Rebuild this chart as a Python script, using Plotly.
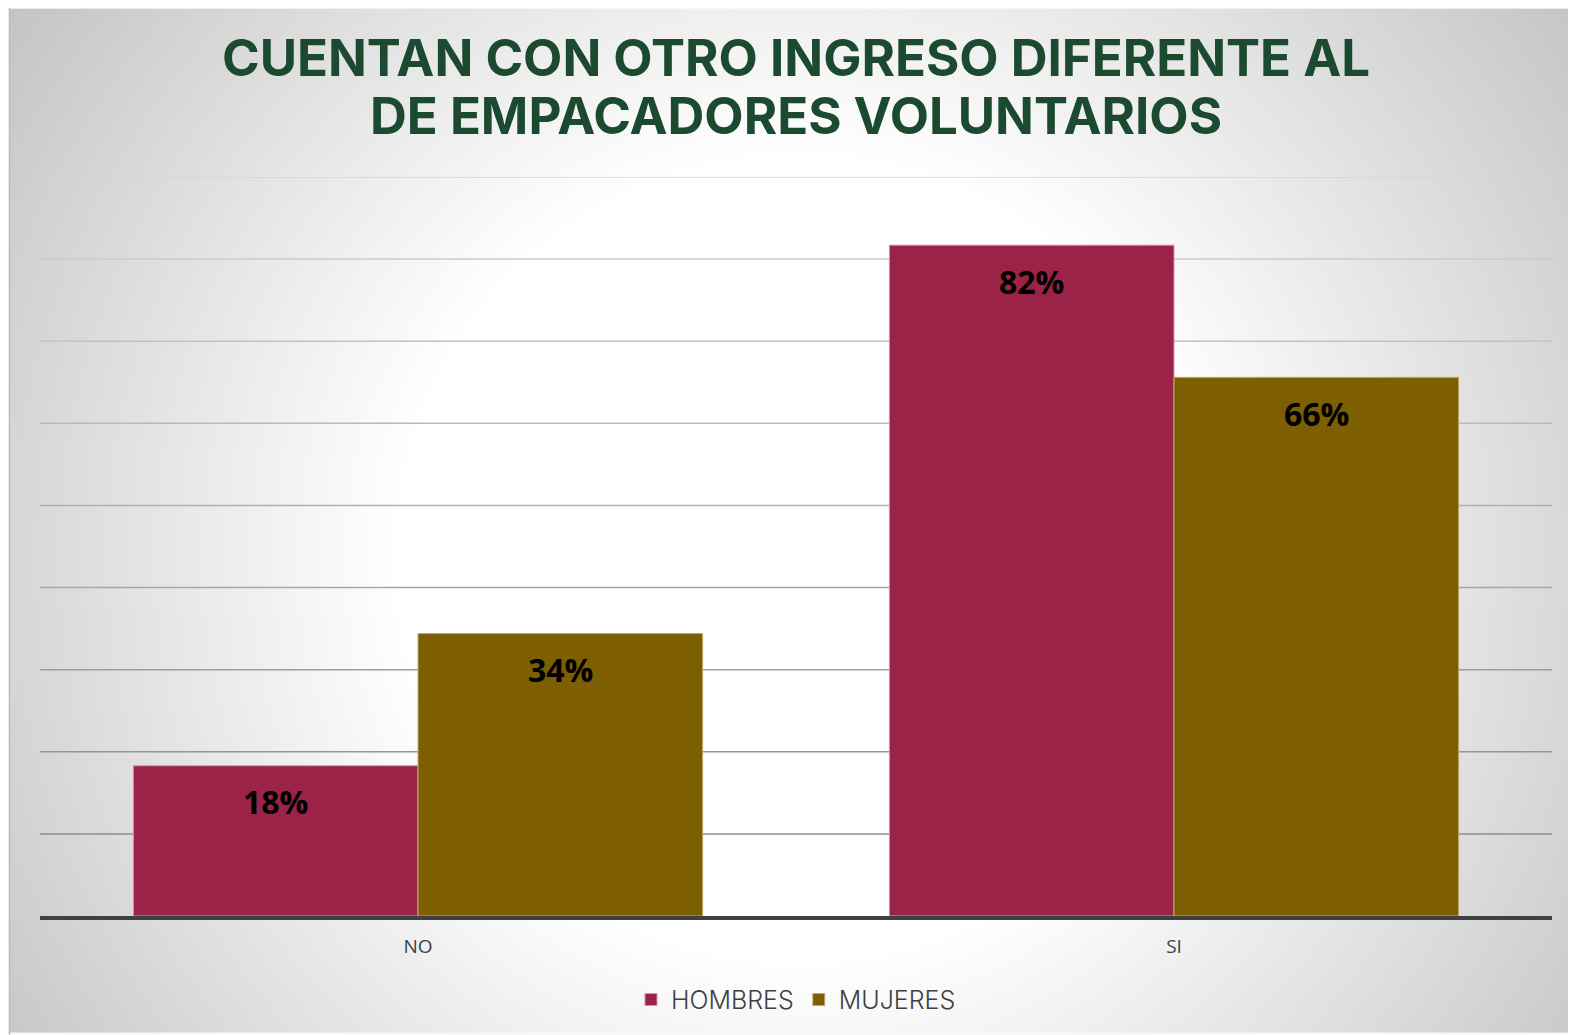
import base64
import plotly.graph_objects as go

# ---- data ----
categories = ["NO", "SI"]
series_names = ["HOMBRES", "MUJERES"]
hombres = [18.3, 81.7]
mujeres = [34.4, 65.6]
label_hombres = ["18%", "82%"]
label_mujeres = ["34%", "66%"]
y_ticks = [10, 20, 30, 40, 50, 60, 70, 80, 90]

title_line1 = "CUENTAN CON OTRO INGRESO DIFERENTE AL"
title_line2 = "DE EMPACADORES VOLUNTARIOS"

# ---- style ----
PAGE_OFF = 8                      # default body margin of the html page
W, H = 1576 - PAGE_OFF, 1035 - PAGE_OFF
ML, MR, MT, MB = 32, 24, 169, 117
PW, PH = W - ML - MR, H - MT - MB
col_h = "#9B2348"
col_m = "#7D5E00"
line_h = "#D496AA"
line_m = "#BFA972"
bargap = 0.247
title_font = dict(family="Inter", size=51, color="#1B4A31", weight="bold")


def px_x(px):
    return (px - ML) / PW


def px_y(py):
    return (H - MB - py) / PH


# radial gradient background as svg (frame in figure pixel coords)
fx0, fy0 = 1, 0
fw, fh = W - fx0, H - fy0
gcx, gcy = 800 - PAGE_OFF - fx0, 560 - PAGE_OFF - fy0
svg = f'''<svg xmlns="http://www.w3.org/2000/svg" width="{fw}" height="{fh}" viewBox="0 0 {fw} {fh}" preserveAspectRatio="none">
<defs><radialGradient id="g" gradientUnits="userSpaceOnUse" cx="{gcx}" cy="{gcy}" r="1000" fx="{gcx}" fy="{gcy}">
<stop offset="0" stop-color="#ffffff"/>
<stop offset="0.4" stop-color="#ffffff"/>
<stop offset="1" stop-color="#c0c0c0"/>
</radialGradient></defs>
<rect x="0" y="0" width="{fw}" height="{fh}" fill="url(#g)"/>
</svg>'''
src = "data:image/svg+xml;base64," + base64.b64encode(svg.encode()).decode()

fig = go.Figure()
fig.add_trace(go.Bar(
    x=categories, y=hombres, name=series_names[0],
    marker=dict(color=col_h, line=dict(color=line_h, width=1)),
    hoverinfo="skip",
))
fig.add_trace(go.Bar(
    x=categories, y=mujeres, name=series_names[1],
    marker=dict(color=col_m, line=dict(color=line_m, width=1)),
    hoverinfo="skip",
))

# data labels inside the top of each bar
off = (1 - bargap) / 4
annotations = []
for i in range(len(categories)):
    for vals, labs, sgn in ((hombres, label_hombres, -1), (mujeres, label_mujeres, 1)):
        annotations.append(dict(
            x=i + sgn * off, y=vals[i], xref="x", yref="y",
            text=labs[i], showarrow=False, yanchor="middle", yshift=-36,
            font=dict(family="Open Sans", size=32, color="#000000", weight="bold"),
        ))

# second title line (tighter line spacing than a <br> title)
annotations.append(dict(
    x=0.5, y=px_y(107), xref="paper", yref="paper", xanchor="center", yanchor="middle",
    text=title_line2, showarrow=False, font=title_font,
))

# gridlines (darken toward the bottom)
shapes = []
light, dark = (212, 212, 212), (140, 140, 140)
for v in y_ticks:
    t = (v - y_ticks[0]) / (y_ticks[-1] - y_ticks[0])
    c = tuple(int(round(dark[k] + (light[k] - dark[k]) * t)) for k in range(3))
    shapes.append(dict(type="line", xref="paper", yref="y", x0=0, x1=1, y0=v, y1=v,
                       line=dict(color=f"rgb{c}", width=1.5), layer="below"))
# frame border (left edge)
shapes.append(dict(type="line", xref="paper", yref="paper",
                   x0=px_x(fx0 + 0.5), x1=px_x(fx0 + 0.5), y0=px_y(H + 2), y1=px_y(fy0 - 2),
                   line=dict(color="#bcbcbc", width=1.5), layer="below"))

fig.update_layout(
    width=W, height=H,
    margin=dict(l=ML, r=MR, t=MT, b=MB),
    paper_bgcolor="#fcf8f4",
    plot_bgcolor="rgba(0,0,0,0)",
    barmode="group", bargap=bargap, bargroupgap=0,
    title=dict(text=title_line1, x=0.5, xref="paper", xanchor="center",
               y=1 - 50 / H, yref="container", yanchor="middle",
               font=title_font),
    xaxis=dict(showgrid=False, showline=True, linecolor="#404040", linewidth=4,
               ticks="", tickfont=dict(family="Open Sans", size=19, color="#404040"),
               ticklabelstandoff=10, fixedrange=True),
    yaxis=dict(range=[0, 90], showgrid=False, zeroline=False, showticklabels=False,
               fixedrange=True),
    legend=dict(orientation="h", x=0.5, xanchor="center", y=px_y(1002 - PAGE_OFF),
                yanchor="middle",
                font=dict(family="Inter", size=25, color="#404040", weight=300),
                bgcolor="rgba(0,0,0,0)", itemwidth=30, traceorder="normal"),
    showlegend=True,
    annotations=annotations,
    shapes=shapes,
    images=[dict(source=src, xref="paper", yref="paper", x=px_x(fx0), y=px_y(fy0),
                 sizex=fw / PW, sizey=fh / PH, sizing="stretch", xanchor="left",
                 yanchor="top", layer="below")],
)

fig.write_html("out.html")
